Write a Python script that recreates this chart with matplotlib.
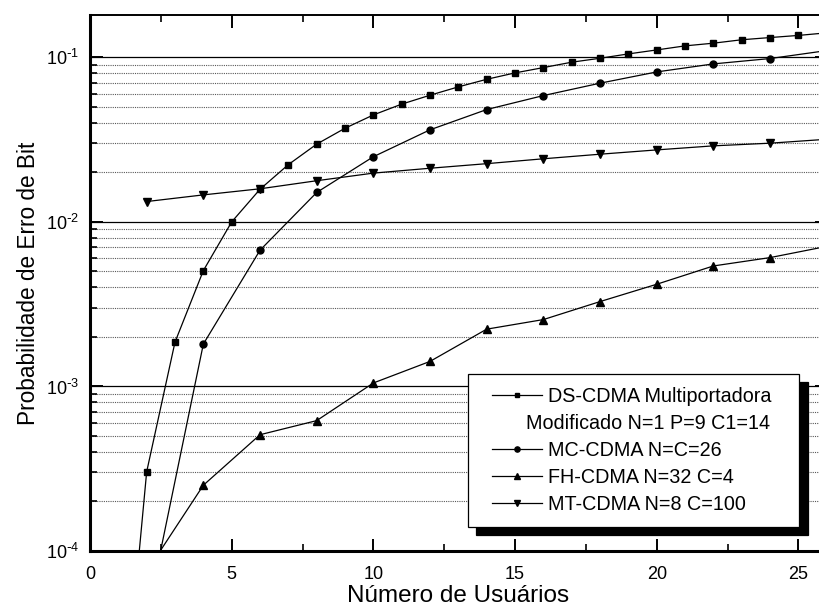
import matplotlib
matplotlib.use("Agg")
import math
import matplotlib.pyplot as plt
from matplotlib.ticker import LogLocator, MultipleLocator, FuncFormatter, NullFormatter
from matplotlib.lines import Line2D
from matplotlib.transforms import Affine2D
from matplotlib.legend_handler import HandlerLine2D

plt.rcParams['font.family'] = ['Liberation Sans', 'DejaVu Sans']
plt.rcParams['mathtext.default'] = 'regular'

# Data
x_ds = [1, 2, 3, 4, 5, 6, 7, 8, 9, 10, 11, 12, 13, 14, 15, 16, 17, 18, 19, 20, 21, 22, 23, 24, 25, 26]
y_ds = [4.3e-6, 3.03e-4, 1.86e-3, 5.06e-3, 1.0e-2, 1.58e-2, 2.23e-2, 2.97e-2, 3.71e-2, 4.47e-2,
        5.2e-2, 5.89e-2, 6.62e-2, 7.36e-2, 8.05e-2, 8.67e-2, 9.35e-2, 9.88e-2, 0.105, 0.111,
        0.1175, 0.122, 0.128, 0.132, 0.136, 0.141]
x_mc = [2, 4, 6, 8, 10, 12, 14, 16, 18, 20, 22, 24, 26]
y_mc = [3.9e-5, 1.81e-3, 6.73e-3, 1.51e-2, 2.49e-2, 3.63e-2, 4.82e-2, 5.86e-2, 6.97e-2,
        8.16e-2, 9.13e-2, 9.84e-2, 0.110]
x_fh = [2, 4, 6, 8, 10, 12, 14, 16, 18, 20, 22, 24, 26]
y_fh = [7.5e-5, 2.51e-4, 5.09e-4, 6.2e-4, 1.05e-3, 1.42e-3, 2.23e-3, 2.55e-3, 3.28e-3,
        4.18e-3, 5.4e-3, 6.07e-3, 7.1e-3]
x_mt = [2, 4, 6, 8, 10, 12, 14, 16, 18, 20, 22, 24, 26]
y_mt = [1.33e-2, 1.46e-2, 1.59e-2, 1.78e-2, 1.98e-2, 2.12e-2, 2.26e-2, 2.42e-2, 2.58e-2,
        2.74e-2, 2.90e-2, 3.01e-2, 3.18e-2]

labels = ["DS-CDMA Multiportadora", "Modificado N=1 P=9 C1=14", "MC-CDMA N=C=26",
          "FH-CDMA N=32 C=4", "MT-CDMA N=8 C=100"]

fig = plt.figure(figsize=(8.2, 6.1), dpi=100)
W, H = 820, 610
ax = fig.add_axes([90 / W, 59 / H, 736.7 / W, (595 - 59) / H])

lw = 0.9
l1, = ax.plot(x_ds, y_ds, '-s', color='k', lw=lw, ms=4.8)
l2, = ax.plot(x_mc, y_mc, '-o', color='k', lw=lw, ms=5.0)
l3, = ax.plot(x_fh, y_fh, '-^', color='k', lw=lw, ms=5.6)
l4, = ax.plot(x_mt, y_mt, '-v', color='k', lw=lw, ms=5.6)

ax.set_yscale('log')
ax.set_xlim(0, 26)
ax.set_ylim(1e-4, 0.181)


def ylab(v, pos):
    n = int(round(math.log10(v)))
    if n < 0:
        return r'$10^{\text{-}%d}$' % (-n)
    return r'$10^{%d}$' % n


ax.xaxis.set_major_locator(MultipleLocator(5))
ax.xaxis.set_minor_locator(MultipleLocator(2.5))
ax.yaxis.set_major_locator(LogLocator(base=10, numticks=10))
ax.yaxis.set_minor_locator(LogLocator(base=10, subs=range(2, 10), numticks=10))
ax.yaxis.set_major_formatter(FuncFormatter(ylab))
ax.yaxis.set_minor_formatter(NullFormatter())

ax.grid(True, which='major', axis='y', color='k', lw=0.9, ls='-')
ax.grid(True, which='minor', axis='y', color='0.35', lw=0.8, ls=(0, (1, 1)))
ax.set_axisbelow(True)

ax.tick_params(axis='both', which='major', direction='in', length=9, width=1.4,
               labelsize=13, top=True, right=True)
ax.tick_params(axis='both', which='minor', direction='in', length=5, width=1.2,
               top=True, right=True)
ax.tick_params(axis='x', which='major', pad=11)
ax.tick_params(axis='y', which='major', pad=8)

ax.spines['left'].set_linewidth(2.2)
ax.spines['bottom'].set_linewidth(2.2)
ax.spines['top'].set_linewidth(1.4)
ax.spines['right'].set_linewidth(1.4)

ax.set_xlabel("Número de Usuários", fontsize=17.5, labelpad=1)
ax.set_ylabel("Probabilidade de Erro de Bit", fontsize=16.3, labelpad=4)

blank = Line2D([], [], color='none')
hmap = {l: HandlerLine2D(xpad=0.6) for l in (l1, l2, l3, l4)}
leg = ax.legend([l1, blank, l2, l3, l4], labels, loc='upper left', mode='expand',
                bbox_to_anchor=((467.7 - 90) / 736.7, 0.0, (799.3 - 467.7) / 736.7, (551 - 374) / 536),
                fontsize=14.2, frameon=True, fancybox=False, edgecolor='k',
                framealpha=1, handlelength=3.1, handletextpad=0.34, labelspacing=0.41,
                borderpad=0.65, borderaxespad=0, markerscale=0.75, handler_map=hmap,
                shadow={'ox': 6, 'oy': -6, 'facecolor': 'k', 'edgecolor': 'k', 'alpha': 1})
leg.get_frame().set_linewidth(0.9)
t = leg.get_texts()[1]
t.set_transform(t.get_transform() + Affine2D().translate(-22, 0))

fig.savefig("out.png", dpi=100)
